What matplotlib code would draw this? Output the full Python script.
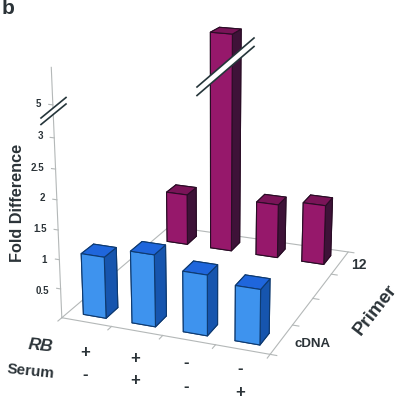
import matplotlib
matplotlib.use('Agg')
import matplotlib.pyplot as plt
from matplotlib.lines import Line2D
from matplotlib.patches import Polygon
import numpy as np

# values
bar_starts = [0.075, 0.32, 0.57, 0.815]
row_starts = [0.055, 0.835]
cdna_values = [1.05, 1.22, 1.02, 0.92]
primer_values = [0.96, 6.8, 1.0, 1.1]
fold_ticks = [0.5, 1, 1.5, 2, 2.5, 3, 5]
fold_labels = ['0.5', '1', '1.5', '2', '2.5', '3', '5']
rb_signs = ['+', '+', '-', '-']
serum_signs = ['-', '+', '-', '+']

BAR_W = 0.115
BAR_D = 0.1
AXIS_TOP = 4.1
FONT = 'Liberation Sans'
TEXT = '#2b3338'
GREY = '#b4b8b8'


def broken(v):
    # axis is cut above 3, the 5 tick sits at about 3.5
    return v if v <= 3 else 3 + (v - 3) * 0.26


def px(x, y):
    return x / 400, 1 - y / 400


fig = plt.figure(figsize=(4, 4), dpi=100)
ax = fig.add_axes([0.021, 0.0655, 1, 1], projection='3d', computed_zorder=False)
ax.set_xlim(0, 1, view_margin=0)
ax.set_ylim(0, 1, view_margin=0)
ax.set_zlim(0, AXIS_TOP, view_margin=0)
ax.view_init(elev=18.458, azim=-68.635)
ax.set_proj_type('persp', focal_length=0.581)
ax.set_box_aspect((0.879, 1.087, 1.027), zoom=1.02)
ax.set_axis_off()

# floor and axes
ax.plot([0, 1, 1, 0, 0], [0, 0, 1, 1, 0], [0, 0, 0, 0, 0], color=GREY, lw=0.8, zorder=1)
ax.plot([0, 0], [0, 0], [0, AXIS_TOP], color=GREY, lw=0.8, zorder=1)
for t in fold_ticks:
    ax.plot([-0.02, 0], [0, 0], [broken(t)] * 2, color=GREY, lw=0.8, zorder=1)
for u in [0, 0.25, 0.5, 0.75, 1]:
    ax.plot([u, u], [-0.03, 0], [0, 0], color=GREY, lw=0.8, zorder=1)
for v in [0, 0.25, 0.5, 0.75, 1]:
    ax.plot([1, 1.03], [v, v], [0, 0], color=GREY, lw=0.8, zorder=1)


def draw_bars(values, row, front, top, side, edge, z):
    for i, val in enumerate(values):
        # bar3d face order: bottom, top, front, back, left, right
        faces = [side, top, front, side, side, side]
        ax.bar3d(bar_starts[i], row, 0, BAR_W, BAR_D, broken(val), color=faces,
                 edgecolor=edge, linewidth=0.8, shade=False, zorder=z + i)


draw_bars(primer_values, row_starts[1], '#96186b', '#7a1458', '#3e1238', '#2a0d26', 3)
draw_bars(cdna_values, row_starts[0], '#3e93ee', '#1f66dc', '#1655ae', '#0e3a70', 10)

# labels are placed by pixel position of the reference
fig.text(*px(2, 9), 'b', family=FONT, weight='bold', size=15, color=TEXT, ha='left', va='center')
fig.text(*px(18, 203), 'Fold Difference', family=FONT, weight='bold', size=11.7, color=TEXT,
         rotation=90, ha='center', va='center')
label_y = [291, 260, 229, 198, 168, 136, 104]
label_x = [42, 44, 40, 42, 37, 40, 38]
for lab, x, y in zip(fold_labels, label_x, label_y):
    fig.text(*px(x, y), lab, family=FONT, weight='bold', size=7, color=TEXT, ha='center', va='center')

fig.text(*px(41, 346), 'RB', family=FONT, weight='bold', style='italic', size=12.5, color=TEXT,
         rotation=-6, ha='center', va='center')
fig.text(*px(31, 372), 'Serum', family=FONT, weight='bold', size=11, color=TEXT,
         rotation=-6, ha='center', va='center')
sign_x = [85, 135, 186, 240]
rb_y = [352, 358, 362, 368]
serum_y = [374, 381, 387, 393]
for s, x, y in zip(rb_signs, sign_x, rb_y):
    fig.text(*px(x, y), s, family=FONT, weight='bold', size=12, color=TEXT, ha='center', va='center')
for s, x, y in zip(serum_signs, sign_x, serum_y):
    fig.text(*px(x, y), s, family=FONT, weight='bold', size=12, color=TEXT, ha='center', va='center')

fig.text(*px(359, 265), '12', family=FONT, weight='bold', size=10, color=TEXT, ha='center', va='center')
fig.text(*px(313, 344), 'cDNA', family=FONT, weight='bold', size=9.5, color=TEXT, ha='center', va='center')
fig.text(*px(375, 310), 'Primer', family=FONT, weight='bold', size=13.5, color=TEXT,
         rotation=52, ha='center', va='center')


def axis_break(x0, y0, x1, y1, gap):
    # white band between two dark strokes
    band = [px(x0, y0), px(x1, y1), px(x1, y1 + gap), px(x0, y0 + gap)]
    fig.add_artist(Polygon(band, closed=True, transform=fig.transFigure, fc='white', ec='none', zorder=5))
    for dy in (0, gap):
        a, b = px(x0, y0 + dy), px(x1, y1 + dy)
        fig.add_artist(Line2D([a[0], b[0]], [a[1], b[1]], transform=fig.transFigure, color='#25353a', lw=1.2, zorder=6))


axis_break(41, 118, 66, 97.5, 6.5)
axis_break(197, 87, 254, 38, 8.5)

fig.savefig('out.png', dpi=100)
